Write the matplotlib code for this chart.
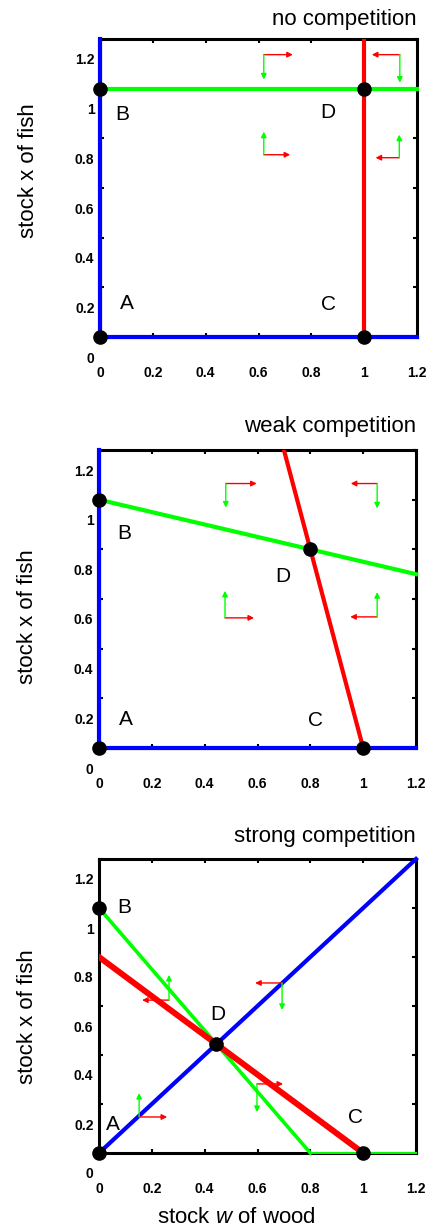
import matplotlib.pyplot as plt
from matplotlib.transforms import ScaledTranslation

plt.rcParams['font.family'] = ['Liberation Sans', 'DejaVu Sans']
plt.rcParams['mathtext.fontset'] = 'custom'
plt.rcParams['mathtext.rm'] = 'Liberation Sans'
plt.rcParams['mathtext.it'] = 'Liberation Sans:italic'

W, H = 429, 1226

titles = ['no competition', 'weak competition', 'strong competition']
ticks = [0, 0.2, 0.4, 0.6, 0.8, 1, 1.2]
tick_labels = ['0', '0.2', '0.4', '0.6', '0.8', '1', '1.2']

# isoclines per panel: (w values, x values)
blue_lines = [
    ([0, 0, 1.2], [1.2, 0, 0]),
    ([0, 0, 1.2], [1.2, 0, 0]),
    ([0, 1.2], [0, 1.2]),
]
green_lines = [
    ([0, 1.2], [1.0, 1.0]),
    ([0, 1.2], [1.0, 0.7]),
    ([0, 0.8], [1.0, 0]),
]
# strong case: green isocline continues along the w axis
green_tail_w = [0.8, 1.2]
green_tail_x = [0, 0]
red_lines = [
    ([1.0, 1.0], [0, 1.2]),
    ([1.0, 0.7], [0, 1.2]),
    ([0, 1.0], [0.8, 0]),
]

# equilibria A, B, C, D
eq_w = [[0, 0, 1, 1], [0, 0, 1, 0.8], [0, 0, 1, 0.444]]
eq_x = [[0, 1, 0, 1], [0, 1, 0, 0.8], [0, 1, 0, 0.444]]

# letter labels
lab_names = ['A', 'B', 'C', 'D']
lab_w = [[0.10, 0.083, 0.865, 0.863], [0.10, 0.095, 0.818, 0.697], [0.053, 0.095, 0.97, 0.451]]
lab_x = [[0.133, 0.895, 0.129, 0.903], [0.113, 0.863, 0.109, 0.69], [0.118, 1.004, 0.143, 0.567]]

# direction arrows: origin w, origin x, red horizontal step, green vertical step
arr_w = [[0.62, 1.135, 0.62, 1.133], [0.48, 1.053, 0.477, 1.053], [0.152, 0.265, 0.693, 0.598]]
arr_x = [[1.137, 1.137, 0.734, 0.722], [1.065, 1.065, 0.524, 0.528], [0.147, 0.624, 0.694, 0.282]]
arr_dw = [[0.11, -0.106, 0.10, -0.09], [0.117, -0.10, 0.11, -0.102], [0.106, -0.102, -0.102, 0.099]]
arr_dx = [[-0.10, -0.113, 0.093, 0.093], [-0.097, -0.10, 0.109, 0.10], [0.098, 0.103, -0.11, -0.115]]

# pixel boxes: left, top, right, bottom
boxes = [(100, 39, 417, 337), (99, 450, 416, 748), (99, 859, 416, 1153)]
title_pad = [10, 13, 12.5]
ylab_y = [0.557, 0.44, 0.463]
red_lw = [3, 3, 4.3]

fig = plt.figure(figsize=(W / 100, H / 100), dpi=100)

for i in range(3):
    l, t, r, b = boxes[i]
    ax = fig.add_axes([l / W, 1 - b / H, (r - l) / W, (b - t) / H])
    ax.set_xlim(0, 1.2)
    ax.set_ylim(0, 1.2)
    for s in ax.spines.values():
        s.set_linewidth(2.2)
        s.set_color('black')

    ax.plot(*blue_lines[i], color='#0000ff', lw=3, zorder=3, clip_on=False)
    gw = 3 if i < 2 else 2.6
    ax.plot(*green_lines[i], color='#00ff00', lw=gw, zorder=3, clip_on=False)
    ax.plot(*red_lines[i], color='#ff0000', lw=red_lw[i], zorder=3)
    if i == 2:
        ax.plot(green_tail_w, green_tail_x, color='#00ff00', lw=1.4, zorder=3.5, clip_on=False)
    ax.plot(eq_w[i], eq_x[i], 'o', color='black', markersize=9.5, zorder=5, clip_on=False, ls='none')

    for k in range(4):
        ax.text(lab_w[i][k], lab_x[i][k], lab_names[k], fontsize=15, ha='center', va='center')

    for k in range(4):
        w0, x0 = arr_w[i][k], arr_x[i][k]
        ax.annotate('', xy=(w0 + arr_dw[i][k], x0), xytext=(w0, x0),
                    arrowprops=dict(arrowstyle='-|>', color='#ff0000', lw=1, mutation_scale=8,
                                    shrinkA=0, shrinkB=0), zorder=4)
        ax.annotate('', xy=(w0, x0 + arr_dx[i][k]), xytext=(w0, x0),
                    arrowprops=dict(arrowstyle='-|>', color='#00ff00', lw=1, mutation_scale=8,
                                    shrinkA=0, shrinkB=0), zorder=4)

    ax.set_xticks(ticks)
    ax.set_xticklabels(tick_labels)
    ax.set_yticks(ticks)
    ax.set_yticklabels(tick_labels)
    ax.tick_params(direction='in', length=3, width=1.5, top=True, right=True, labelsize=10)
    ax.tick_params(axis='x', pad=21)
    ax.tick_params(axis='y', pad=4)
    for lab in ax.get_xticklabels() + ax.get_yticklabels():
        lab.set_fontweight('bold')
    # y labels sit lower than their ticks in the original
    shift = ScaledTranslation(0, -20 / 100, fig.dpi_scale_trans)
    for lab in ax.get_yticklabels():
        lab.set_transform(lab.get_transform() + shift)

    ax.set_title(titles[i], loc='right', fontsize=16, pad=title_pad[i])
    ax.text(-0.227, ylab_y[i], 'stock x of fish', rotation=90, fontsize=16,
            ha='center', va='center', transform=ax.transAxes)
    if i == 2:
        ax.text(0.435, -0.218, 'stock $\\it{w}$ of wood', fontsize=16,
                ha='center', va='center', transform=ax.transAxes)

fig.savefig('out.png', dpi=100)
